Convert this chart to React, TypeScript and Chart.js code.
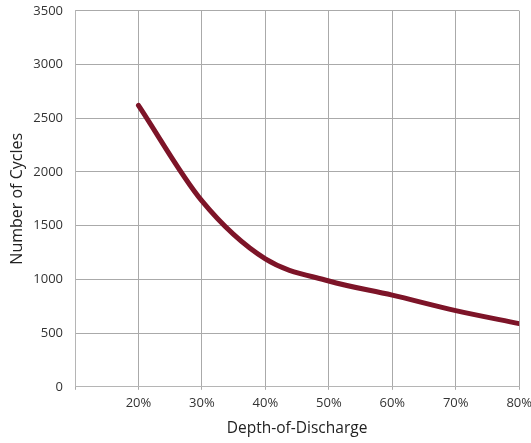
import React, { useEffect, useRef } from "react";
import { Chart, registerables } from "chart.js";

Chart.register(...registerables);

const depthPercent = [20, 30, 40, 50, 60, 70, 80];
const cycles = [2620, 1730, 1190, 985, 853, 709, 588];
const yTicks = [0, 500, 1000, 1500, 2000, 2500, 3000, 3500];
const xTicks = [10, 20, 30, 40, 50, 60, 70, 80];

export default function App() {
  const ref = useRef<HTMLCanvasElement>(null);
  useEffect(() => {
    document.body.style.margin = "0";
    document.body.style.overflow = "hidden";
    const ctx = ref.current!;
    const chart = new Chart(ctx, {
      type: "line",
      data: {
        datasets: [
          {
            data: depthPercent.map((x, i) => ({ x, y: cycles[i] })),
            borderColor: "#7d1428",
            borderWidth: 5,
            pointRadius: 0,
            cubicInterpolationMode: "monotone",
            borderCapStyle: "round",
            borderJoinStyle: "round",
            fill: false,
          },
        ],
      },
      options: {
        animation: false,
        responsive: false,
        maintainAspectRatio: false,
        layout: { padding: { left: 8, top: 0, right: 0, bottom: 5 } },
        plugins: { legend: { display: false }, tooltip: { enabled: false } },
        scales: {
          x: {
            type: "linear",
            min: 10,
            max: 80,
            afterBuildTicks: (axis: any) => {
              axis.ticks = xTicks.map((v) => ({ value: v }));
            },
            grid: { color: "#aaaaaa", lineWidth: 1, tickLength: 3 },
            border: { color: "#b5b5b5" },
            ticks: {
              color: "#333",
              font: { family: "Open Sans", size: 13 },
              padding: 6,
              maxRotation: 0,
              callback: (v: any) => (v === 10 ? "" : v + "%"),
            },
            title: {
              display: true,
              text: "Depth-of-Discharge",
              color: "#222",
              font: { family: "Open Sans", size: 15.5 },
              padding: { top: 2, bottom: 0 },
            },
          },
          y: {
            min: 0,
            max: 3500,
            afterBuildTicks: (axis: any) => {
              axis.ticks = yTicks.map((v) => ({ value: v }));
            },
            afterFit: (axis: any) => {
              axis.width = 67;
            },
            grid: { color: "#aaaaaa", lineWidth: 1, drawTicks: false },
            border: { color: "#b5b5b5" },
            ticks: {
              color: "#333",
              font: { family: "Open Sans", size: 13 },
              padding: 12,
              callback: (v: any) => String(v),
            },
            title: {
              display: true,
              text: "Number of Cycles",
              color: "#222",
              font: { family: "Open Sans", size: 16 },
              padding: { top: 0, bottom: 6 },
            },
          },
        },
      },
    } as any);
    return () => chart.destroy();
  }, []);
  return (
    <div style={{ position: "fixed", left: 0, top: 0, width: 531, height: 443, overflow: "hidden", background: "#fff" }}>
      <canvas
        ref={ref}
        width={538}
        height={452}
        style={{ position: "absolute", left: 0, top: -9, width: 538, height: 452 }}
      />
    </div>
  );
}
